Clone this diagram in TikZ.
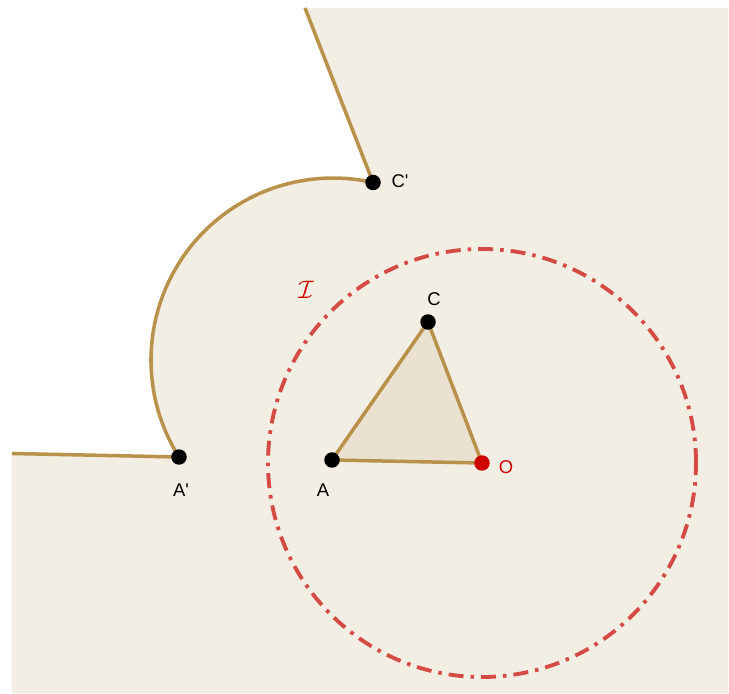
\documentclass[tikz,border=0pt]{standalone}
\usepackage{fontspec}
\setmainfont{Liberation Sans}
\definecolor{arena}{RGB}{243, 238, 227}
\definecolor{arenaosc}{RGB}{234, 225, 209}
\definecolor{ocre}{RGB}{184, 145, 74}
\definecolor{rojoinv}{RGB}{212, 74, 69}
\definecolor{rojoo}{RGB}{204, 0, 0}
\usetikzlibrary{positioning}

\begin{document}
\begin{tikzpicture}[x=0.02cm, y=0.02cm,
    lado/.style={ocre, line width=2pt, line join=round},
    punto/.style={circle, fill=black, inner sep=0pt, minimum size=0.31cm},
    etiq/.style={font=\fontsize{10.5}{12}\selectfont, text=black}]
        \useasboundingbox (0,0) rectangle (729,693);
        \coordinate (O)    at (482,230);
        \coordinate (A)    at (332,233);
        \coordinate (C)    at (428,371);
        \coordinate (Cp)   at (373,510.5);
        \coordinate (Ap)   at (179,236);
        \coordinate (Lend) at (12,239.5);
        \coordinate (Tend) at (305,685);
        \fill[arena] (12,0) -- (Lend) -- (Ap) arc[start angle=212.2, end angle=77.3, radius=182]
              -- (Tend) -- (728,685) -- (728,0) -- cycle;
        \fill[arenaosc] (A) -- (C) -- (O) -- cycle;
        \draw[rojoinv, line width=2.2pt, dash pattern=on 8.5pt off 4pt on 2pt off 4pt] (O) circle (214);
        \draw[lado] (A) -- (C) -- (O) -- cycle;
        \draw[lado] (Lend) -- (Ap) arc[start angle=212.2, end angle=77.3, radius=182] -- (Tend);
        \node[punto] (pA)  at (A)  {};
        \node[punto] (pC)  at (C)  {};
        \node[punto] (pAp) at (Ap) {};
        \node[punto] (pCp) at (Cp) {};
        \node[punto, fill=rojoo] (pO) at (O) {};
        \node[etiq] (lA)  at (323,203) {A};
        \node[etiq] (lC)  at (434,394) {C};
        \node[etiq] (lAp) at (181,203) {A\textquotesingle};
        \node[etiq] (lCp) at (400,512) {C\textquotesingle};
        \node[etiq, text=rojoo] (lO) at (506,226) {O};
        \node[etiq, text=rojoo, font=\fontsize{14}{16}\selectfont] (lI) at (306,403) {$\mathcal{I}$};
\end{tikzpicture}
\end{document}
